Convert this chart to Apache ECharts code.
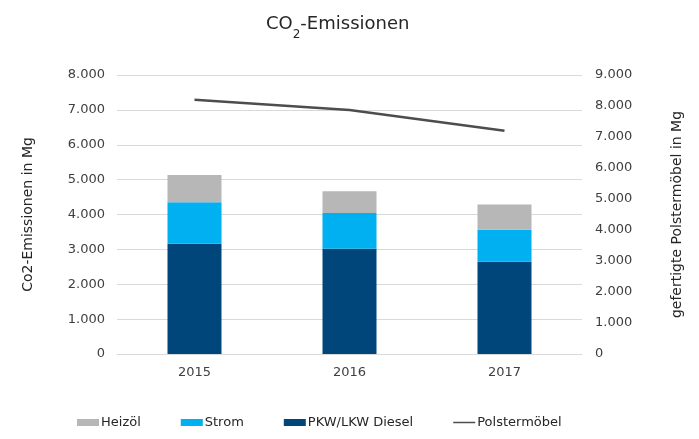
<!DOCTYPE html>
<html>
<head>
<meta charset="utf-8">
<script src="https://cdn.jsdelivr.net/npm/echarts@6/dist/echarts.min.js"></script>
<style>
  html, body { margin: 0; padding: 0; background: #fff; }
  #chart { width: 699px; height: 439px; }
</style>
</head>
<body>
<div id="chart"></div>
<script>
var years = ['2015', '2016', '2017'];
var heizoel = [780, 630, 730];
var strom = [1190, 1020, 915];
var diesel = [3160, 3020, 2645];
var polstermoebel = [8200, 7870, 7200];

var leftTicks = { min: 0, max: 8000, interval: 1000 };
var rightTicks = { min: 0, max: 9000, interval: 1000 };

function fmt(v) {
    return String(v).replace(/\B(?=(\d{3})+(?!\d))/g, '.');
}

var font = 'DejaVu Sans';
var txt = '#404040';
var grid = '#d9d9d9';
// thin line icon for the legend (points at top/bottom keep the bar thin)
var lineIcon = 'path://M0,0L0.01,0Z M0,2.1H22V3.6H0Z M0,5.7L0.01,5.7Z';

var myChart = echarts.init(document.getElementById('chart'));
var option = {
    animation: false,
    textStyle: { fontFamily: font },
    title: {
        text: '{a|CO}{s|2}{a|-Emissionen}',
        left: 261,
        top: 10,
        textStyle: {
            fontWeight: 'normal',
            rich: {
                a: { fontFamily: font, fontSize: 18, fontWeight: 'normal', color: '#262626' },
                s: { fontFamily: font, fontSize: 12, fontWeight: 'normal', color: '#262626', verticalAlign: 'bottom', padding: [0, 0, -8, 0] }
            }
        }
    },
    grid: { left: 117, right: 117, top: 75, bottom: 85, containLabel: false },
    legend: {
        bottom: 5,
        left: 72,
        itemGap: 40,
        itemWidth: 22,
        itemHeight: 7,
        textStyle: { fontFamily: font, fontSize: 13, color: '#262626', padding: [0, 0, 0, -3] },
        data: [
            { name: 'Heizöl', icon: 'rect' },
            { name: 'Strom', icon: 'rect' },
            { name: 'PKW/LKW Diesel', icon: 'rect' },
            { name: 'Polstermöbel', icon: lineIcon }
        ]
    },
    xAxis: {
        type: 'category',
        data: years,
        axisLine: { lineStyle: { color: grid, width: 1 } },
        axisTick: { show: false },
        axisLabel: { color: txt, fontSize: 13, margin: 12 }
    },
    yAxis: [
        {
            type: 'value',
            min: leftTicks.min, max: leftTicks.max, interval: leftTicks.interval,
            name: 'Co2-Emissionen in Mg',
            nameLocation: 'middle',
            nameGap: 82,
            nameRotate: 90,
            nameTextStyle: { color: '#262626', fontSize: 14 },
            axisLine: { show: false },
            axisTick: { show: false },
            axisLabel: { color: txt, fontSize: 13, margin: 12, formatter: fmt },
            splitLine: { lineStyle: { color: grid, width: 1 } }
        },
        {
            type: 'value',
            min: rightTicks.min, max: rightTicks.max, interval: rightTicks.interval,
            name: 'gefertigte Polstermöbel in Mg',
            nameLocation: 'middle',
            nameGap: 88,
            nameRotate: 90,
            nameTextStyle: { color: '#262626', fontSize: 14 },
            axisLine: { show: false },
            axisTick: { show: false },
            axisLabel: { color: txt, fontSize: 13, margin: 13, formatter: fmt },
            splitLine: { show: false }
        }
    ],
    series: [
        {
            name: 'PKW/LKW Diesel', type: 'bar', stack: 'co2', barWidth: 54,
            itemStyle: { color: '#00467a' }, data: diesel
        },
        {
            name: 'Strom', type: 'bar', stack: 'co2', barWidth: 54,
            itemStyle: { color: '#00b0f0' }, data: strom
        },
        {
            name: 'Heizöl', type: 'bar', stack: 'co2', barWidth: 54,
            itemStyle: { color: '#b7b7b7' }, data: heizoel
        },
        {
            name: 'Polstermöbel', type: 'line', yAxisIndex: 1,
            symbol: 'none', lineStyle: { color: '#4d4d4d', width: 2.5 },
            itemStyle: { color: '#4d4d4d' }, data: polstermoebel
        }
    ]
};
myChart.setOption(option);
</script>
</body>
</html>
